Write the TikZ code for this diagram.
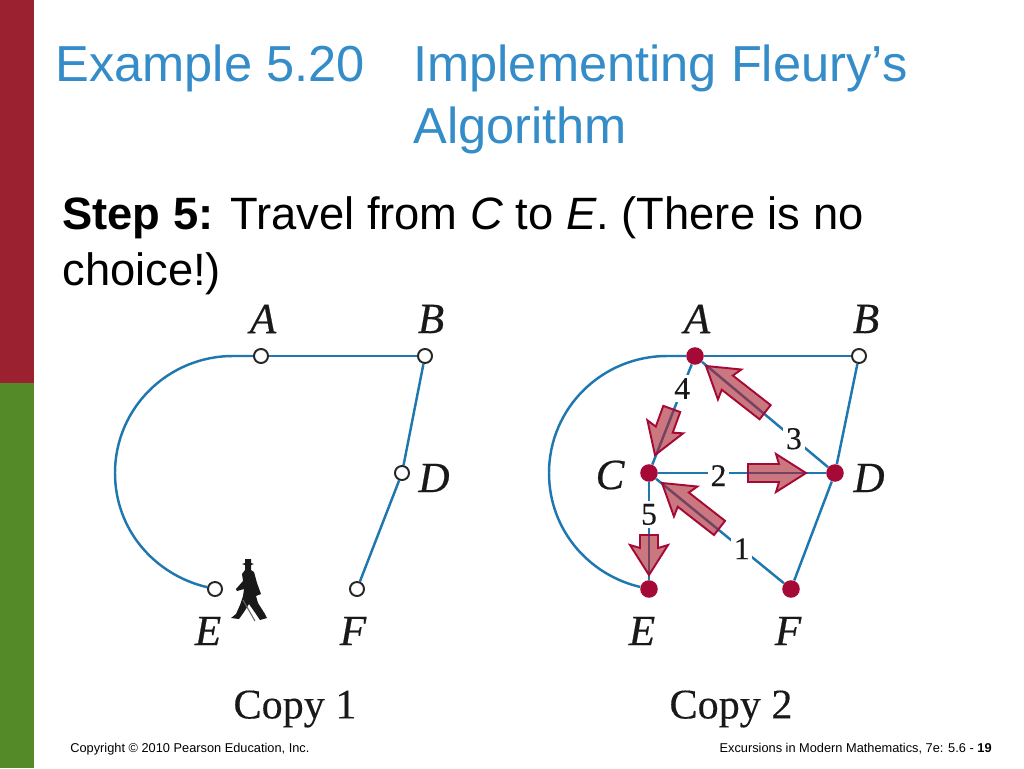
\documentclass[tikz,border=0pt]{standalone}
\usepackage{fontspec}
\setmainfont{Liberation Sans}
\newfontfamily\bookfont[FakeBold=0.25]{Liberation Serif}
\newfontfamily\nameserif[ItalicFeatures={FakeBold=0.5}]{Liberation Serif}
\pgfdeclarelayer{edgelayer}
\pgfdeclarelayer{nodelayer}
\pgfsetlayers{edgelayer,nodelayer,main}
\definecolor{titleblue}{RGB}{52,140,200}
\definecolor{edgeblue}{RGB}{30,120,175}
\definecolor{crimson}{RGB}{165,10,55}
\definecolor{arrowred}{RGB}{170,35,50}
\definecolor{barred}{RGB}{155,32,48}
\definecolor{bargreen}{RGB}{84,139,40}
\tikzstyle{none}=[inner sep=0pt,anchor=base west]
\tikzstyle{title_text}=[none,text=titleblue,font=\fontsize{28.8pt}{30pt}\selectfont]
\tikzstyle{body_text}=[none,font=\fontsize{25.8pt}{28pt}\selectfont]
\tikzstyle{foot_text}=[inner sep=0pt,font=\fontsize{7.28pt}{9pt}\selectfont]
\tikzstyle{open_vertex}=[circle,draw=black!85,fill=white,line width=1.1pt,minimum size=8pt,inner sep=0pt]
\tikzstyle{filled_vertex}=[circle,fill=crimson,minimum size=10pt,inner sep=0pt]
\tikzstyle{vertex_name}=[inner sep=0pt,font=\nameserif\itshape\fontsize{24.5pt}{26pt}\selectfont,text=black!90]
\tikzstyle{copy_name}=[inner sep=0pt,font=\bookfont\fontsize{24pt}{26pt}\selectfont,text=black!90]
\tikzstyle{edge}=[draw=edgeblue,line width=1.4pt]
\tikzstyle{step_no}=[fill=white,inner sep=1.5pt,text=black!90,font=\bookfont\fontsize{18pt}{20pt}\selectfont]
\tikzstyle{block_arrow}=[draw=crimson,fill=arrowred,fill opacity=0.62,line width=1.1pt,line join=miter]
% tip, direction, length
\newcommand{\blockarrow}[3]{
	\draw [style={block_arrow}, shift={(#1)}, rotate=#2] (0,0) -- (-30,19) -- (-27,9) -- (-#3,9) -- (-#3,-9) -- (-27,-9) -- (-30,-19) -- cycle;
}
\begin{document}
\begin{tikzpicture}[x=0.02cm,y=0.02cm]
	\useasboundingbox (0,0) rectangle (1024,-768);
	\fill [barred] (0,0) rectangle (34,-383);
	\fill [bargreen] (0,-383) rectangle (34,-768);

	\node [style={title_text}] (title1) at (55,-81) {Example 5.20};
	\node [style={title_text}] (title2) at (413,-81) {Implementing Fleury’s};
	\node [style={title_text}] (title3) at (413,-143) {Algorithm};
	\node [style={body_text}] (line1) at (62,-229) {\textbf{Step 5:} Travel from \textit{C} to \textit{E}. (There is no};
	\node [style={body_text}] (line2) at (62,-285) {choice!)};
	\node [style={foot_text},anchor=base west] (foot1) at (70,-752) {Copyright © 2010 Pearson Education, Inc.};
	\node [style={foot_text},anchor=base east] (foot2) at (992,-752) {Excursions in Modern Mathematics, 7e: 5.6 - \textbf{19}};

	\begin{pgfonlayer}{nodelayer}
		% copy 1
		\node [style={open_vertex}] (a1) at (261,-356) {};
		\node [style={open_vertex}] (b1) at (425,-356) {};
		\node [style={open_vertex}] (d1) at (402,-473) {};
		\node [style={open_vertex}] (e1) at (215,-589) {};
		\node [style={open_vertex}] (f1) at (357,-589) {};
		% copy 2
		\node [style={filled_vertex}] (a2) at (695,-356) {};
		\node [style={open_vertex}] (b2) at (859,-356) {};
		\node [style={filled_vertex}] (c2) at (649,-473) {};
		\node [style={filled_vertex}] (d2) at (835,-473) {};
		\node [style={filled_vertex}] (e2) at (649,-589) {};
		\node [style={filled_vertex}] (f2) at (791,-589) {};
	\end{pgfonlayer}

	\node [style={vertex_name}] (nameA1) at (263,-319) {A};
	\node [style={vertex_name}] (nameB1) at (431,-319) {B};
	\node [style={vertex_name}] (nameD1) at (434,-478) {D};
	\node [style={vertex_name}] (nameE1) at (208,-631) {E};
	\node [style={vertex_name}] (nameF1) at (353,-631) {F};
	\node [style={vertex_name}] (nameA2) at (697,-319) {A};
	\node [style={vertex_name}] (nameB2) at (866,-319) {B};
	\node [style={vertex_name}] (nameC2) at (610,-475) {C};
	\node [style={vertex_name}] (nameD2) at (869,-478) {D};
	\node [style={vertex_name}] (nameE2) at (642,-631) {E};
	\node [style={vertex_name}] (nameF2) at (788,-631) {F};
	\node [style={copy_name}] (copy1) at (295,-709) {Copy 1};
	\node [style={copy_name}] (copy2) at (731,-709) {Copy 2};

	\begin{pgfonlayer}{edgelayer}
		\draw [style=edge] (a1) -- (b1);
		\draw [style=edge] (b1) -- (d1);
		\draw [style=edge] (d1) -- (f1);
		\draw [style=edge] (a1) -- (233,-356) .. controls (168,-356) and (115,-408) .. (115,-473) .. controls (115,-530) and (155,-575) .. (e1);
		\draw [style=edge] (a2) -- (b2);
		\draw [style=edge] (b2) -- (d2);
		\draw [style=edge] (d2) -- (f2);
		\draw [style=edge] (a2) -- (667,-356) .. controls (602,-356) and (549,-408) .. (549,-473) .. controls (549,-530) and (589,-575) .. (e2);
		\draw [style=edge] (f2) -- node[style={step_no},pos=0.33]{1} (c2);
		\draw [style=edge] (c2) -- node[style={step_no},pos=0.36,yshift=-1.5pt]{2} (d2);
		\draw [style=edge] (d2) -- node[style={step_no},pos=0.27]{3} (a2);
		\draw [style=edge] (a2) -- node[style={step_no},pos=0.24]{4} (c2);
		\draw [style=edge] (c2) -- node[style={step_no},pos=0.33]{5} (e2);
	\end{pgfonlayer}

	\blockarrow{806,-473}{0}{58}
	\blockarrow{706,-366}{142}{75}
	\blockarrow{655,-455}{250}{49}
	\blockarrow{662,-483}{142}{73}
	\blockarrow{649,-575}{270}{40}

	% walker
	\fill [black!90] (242,-564) -- (245,-563) -- (245,-559) -- (251,-559) -- (251,-563) -- (254,-564) -- (251,-565) -- (245,-565) -- cycle;
	\fill [black!90] (245,-565) -- (251,-565) -- (251,-570) -- (254,-572) -- (257,-583) -- (261,-594) -- (256,-596) -- (258,-603) -- (265,-614) -- (267,-618) -- (260,-620) -- (256,-614) -- (249,-604) -- (244,-612) -- (239,-619) -- (231,-618) -- (236,-614) -- (240,-605) -- (243,-596) -- (244,-589) -- (237,-591) -- (236,-589) -- (243,-581) -- (242,-574) -- (245,-570) -- cycle;
	\draw [black!60, line width=0.6pt] (243,-600) -- (255,-621);
\end{tikzpicture}
\end{document}
